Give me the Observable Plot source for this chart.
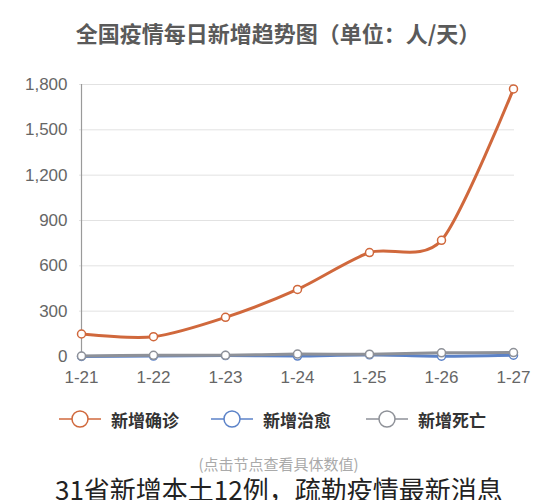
<!DOCTYPE html>
<html>
<head>
<meta charset="utf-8">
<script src="https://cdn.jsdelivr.net/npm/d3@7"></script>
<script src="https://cdn.jsdelivr.net/npm/@observablehq/plot@0.6"></script>
<style>
  html, body { margin: 0; padding: 0; background: #fff; }
  #wrap { position: relative; width: 557px; height: 500px; overflow: hidden; font-family: "Noto Sans CJK SC", "Noto Sans", sans-serif; }
  #title { position: absolute; left: 0; width: 556px; top: 18px; line-height: 28px; text-align: center; font-size: 22px; font-weight: bold; color: #5a5a5a; }
  #chart { position: absolute; left: 0; top: 60px; }
  #legend { position: absolute; top: 406px; left: 0; width: 557px; height: 26px; }
  .item { position: absolute; top: 0; display: flex; align-items: center; height: 26px; }
  .item span { font-size: 17px; font-weight: bold; color: #333; margin-left: 9px; }
  #note { position: absolute; top: 456px; width: 557px; line-height: 16px; text-align: center; font-size: 15px; color: #aaa; }
  #bottom { position: absolute; top: 477px; left: 55px; line-height: 24px; font-size: 26px; color: #222; white-space: nowrap; }
</style>
</head>
<body>
<div id="wrap">
  <div id="title">全国疫情每日新增趋势图（单位：人/天）</div>
  <div id="chart"></div>
  <div id="legend"></div>
  <div id="note">(点击节点查看具体数值)</div>
  <div id="bottom">31省新增本土12例，疏勒疫情最新消息</div>
</div>
<script>
const dates = ["1-21","1-22","1-23","1-24","1-25","1-26","1-27"];
const confirmed = [149, 131, 259, 444, 688, 769, 1771];
const cured = [0, 3, 6, 3, 11, 2, 9];
const deaths = [3, 8, 8, 16, 15, 24, 26];
const seriesNames = ["新增确诊", "新增治愈", "新增死亡"];
const seriesColors = ["#d0683c", "#5b82c8", "#8e9198"];
const yTicks = [0, 300, 600, 900, 1200, 1500, 1800];

const build = (vals, name) => vals.map((v, i) => ({date: dates[i], value: v, series: name}));
const dConf = build(confirmed, seriesNames[0]);
const dCured = build(cured, seriesNames[1]);
const dDeath = build(deaths, seriesNames[2]);

function lineAndDots(data, color) {
  return [
    Plot.line(data, {x: "date", y: "value", stroke: color, strokeWidth: 3, curve: "cardinal", tension: 0.2}),
    Plot.dot(data, {x: "date", y: "value", r: 4, fill: "white", stroke: color, strokeWidth: 1.5})
  ];
}

const chart = Plot.plot({
  width: 557,
  height: 340,
  marginTop: 24,
  marginBottom: 44,
  marginLeft: 79,
  marginRight: 43,
  style: {fontSize: "17px", color: "#666", fontFamily: "'Liberation Sans', Arial, sans-serif", background: "transparent"},
  x: {type: "point", domain: dates, padding: 0},
  y: {domain: [0, 1800]},
  marks: [
    Plot.gridY(yTicks, {stroke: "#e2e2e2", strokeOpacity: 1}),
    Plot.ruleX([dates[0]], {y1: 0, y2: 1800, stroke: "#9a9a9a", strokeWidth: 1.2}),
    Plot.axisY(yTicks, {tickSize: 0, tickPadding: 12, tickFormat: d3.format(","), label: null}),
    Plot.axisX(dates, {tickSize: 0, tickPadding: 14, label: null}),
    ...lineAndDots(dCured, seriesColors[1]),
    ...lineAndDots(dDeath, seriesColors[2]),
    ...lineAndDots(dConf, seriesColors[0])
  ]
});
document.getElementById("chart").appendChild(chart);

const legendX = [58, 210, 365];
const legend = document.getElementById("legend");
seriesNames.forEach((name, i) => {
  const div = document.createElement("div");
  div.className = "item";
  div.style.left = legendX[i] + "px";
  const c = seriesColors[i];
  div.innerHTML = `<svg width="44" height="26"><line x1="1" x2="43" y1="13" y2="13" stroke="${c}" stroke-width="1.5"/><circle cx="22" cy="13" r="8" fill="white" stroke="${c}" stroke-width="1.5"/></svg><span>${name}</span>`;
  legend.appendChild(div);
});
</script>
</body>
</html>
